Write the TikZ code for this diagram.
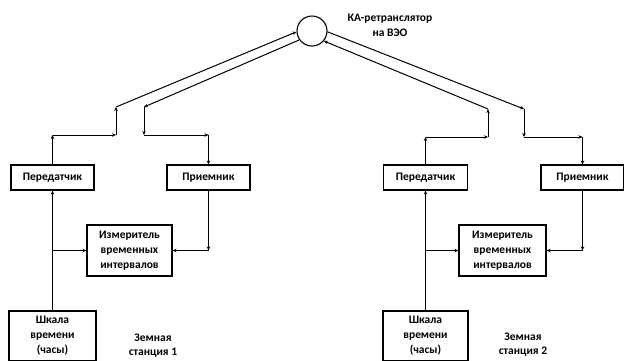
\documentclass[tikz,border=0pt]{standalone}
\usepackage{fontspec}
\setmainfont{Carlito}
\usetikzlibrary{arrows.meta}
\begin{document}
\begin{tikzpicture}[x=1pt,y=-1pt,
  txt/.style={font=\bfseries\fontsize{11.5}{15}\selectfont, align=center},
  box/.style={txt, draw, line width=1.1pt, inner sep=0pt},
  ar/.style={-{Stealth[length=4pt,width=3.5pt]}, line width=1pt},
  ln/.style={line width=1pt}]
\useasboundingbox (0,0) rectangle (624,360);
\clip (0,0) rectangle (624,360);
% satellite
\node[draw, circle, line width=1.1pt, minimum size=30pt, inner sep=0pt] (sat) at (312,31) {};
\node[txt] (satl) at (390,25.5) {КА-ретранслятор\\на ВЭО};
% station 1
\node[box, minimum width=83pt, minimum height=25pt] (tx1) at (52.5,177.5) {Передатчик};
\node[box, minimum width=83pt, minimum height=25pt] (rx1) at (208.5,177.5) {Приемник};
\node[box, minimum width=85pt, minimum height=51pt] (m1) at (129.5,250.5) {Измеритель\\временных\\интервалов};
\node[box, minimum width=87pt, minimum height=50pt] (clk1) at (52.5,336) {Шкала\\времени\\(часы)};
\node[txt, font=\bfseries\fontsize{11.5}{14}\selectfont] (st1) at (153,346) {Земная\\станция 1};
% station 2
\node[box, minimum width=84pt, minimum height=25pt] (tx2) at (425.5,177.5) {Передатчик};
\node[box, minimum width=83pt, minimum height=25pt] (rx2) at (582.5,177.5) {Приемник};
\node[box, minimum width=87pt, minimum height=51pt] (m2) at (502.5,250.5) {Измеритель\\временных\\интервалов};
\node[box, minimum width=85pt, minimum height=50pt] (clk2) at (425.5,336) {Шкала\\времени\\(часы)};
\node[txt, font=\bfseries\fontsize{11.5}{14}\selectfont] (st2) at (523,345) {Земная\\станция 2};
% corner coordinates, station 1
\coordinate (a1) at (52.5,135);
\coordinate (b1) at (116,135);
\coordinate (c1) at (116,107);
\coordinate (d1) at (144,107);
\coordinate (e1) at (144,135);
\coordinate (f1) at (208.5,135);
\coordinate (g1) at (clk1.north |- m1.west);
\coordinate (h1) at (rx1.south |- m1.east);
% corner coordinates, station 2
\coordinate (a2) at (425.5,137);
\coordinate (b2) at (488,137);
\coordinate (c2) at (488,109);
\coordinate (d2) at (524,109);
\coordinate (e2) at (524,137);
\coordinate (f2) at (582.5,137);
\coordinate (g2) at (clk2.north |- m2.west);
\coordinate (h2) at (rx2.south |- m2.east);
% station 1 links
\draw[ar] (tx1.north) -- (a1);
\draw[ar] (a1) -- (b1);
\draw[ar] (b1) -- (c1);
\draw[ar] (c1) -- (sat.183);
\draw[ar] (sat.215) -- (d1);
\draw[ar] (d1) -- (e1);
\draw[ar] (e1) -- (f1);
\draw[ar] (f1) -- (rx1.north);
\draw[ar] (clk1.north) -- (tx1.south);
\draw[ar] (g1) -- (m1.west);
\draw[ar] (rx1.south) -- (h1);
\draw[ar] (h1) -- (m1.east);
% station 2 links
\draw[ar] (tx2.north) -- (a2);
\draw[ar] (a2) -- (b2);
\draw[ar] (b2) -- (c2);
\draw[ar] (c2) -- (sat.320);
\draw[ar] (sat.357) -- (d2);
\draw[ar] (d2) -- (e2);
\draw[ar] (e2) -- (f2);
\draw[ar] (f2) -- (rx2.north);
\draw[ar] (clk2.north) -- (tx2.south);
\draw[ar] (g2) -- (m2.west);
\draw[ar] (rx2.south) -- (h2);
\draw[ar] (h2) -- (m2.east);
\end{tikzpicture}
\end{document}
